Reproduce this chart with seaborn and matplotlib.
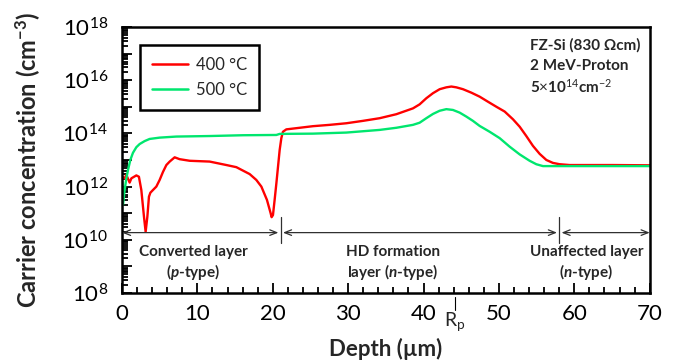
import numpy as np
import pandas as pd
import matplotlib
matplotlib.use("Agg")
import matplotlib.pyplot as plt
import matplotlib.ticker as mticker
import matplotlib.transforms as mtrans
import seaborn as sns

# ---- data ----
depth_400 = [0.05, 0.36, 0.58, 1.02, 1.25, 1.91, 2.25, 2.57, 2.92, 3.14, 3.37, 3.58, 3.77,
             4.11, 4.56, 5.0, 5.44, 5.89, 6.33, 6.99, 7.65, 8.98, 11.63, 13.85, 15.17, 16.94,
             17.82, 18.49, 19.23, 19.72, 19.85, 20.03, 20.25, 20.48, 20.7, 20.92, 21.14, 21.35,
             21.8, 23.57, 25.33, 27.55, 29.76, 31.96, 34.18, 36.39, 38.6, 39.48, 40.37, 41.25,
             42.14, 43.02, 43.69, 44.35, 45.23, 46.34, 47.44, 48.54, 49.66, 50.76, 51.86, 52.75,
             53.63, 54.51, 55.4, 56.29, 57.16, 58.05, 59.38, 65.1, 70.0]
logc_400 = [12.37, 12.31, 12.44, 12.15, 12.31, 12.42, 12.37, 11.87, 10.87, 10.3, 10.87, 11.62,
            11.77, 11.87, 12.0, 12.25, 12.55, 12.81, 12.94, 13.1, 13.03, 12.97, 12.94, 12.81,
            12.73, 12.47, 12.25, 12.0, 11.5, 11.0, 10.85, 10.93, 11.5, 12.12, 12.75, 13.38,
            13.82, 14.06, 14.15, 14.21, 14.27, 14.32, 14.38, 14.47, 14.57, 14.72, 14.94, 15.09,
            15.32, 15.51, 15.66, 15.73, 15.76, 15.73, 15.66, 15.53, 15.38, 15.19, 15.0, 14.82,
            14.53, 14.25, 13.9, 13.53, 13.23, 13.0, 12.89, 12.84, 12.81, 12.81, 12.8]

depth_500 = [0.05, 0.13, 0.36, 0.58, 0.8, 1.11, 1.46, 1.91, 2.35, 3.01, 3.67, 5.0, 7.21, 11.63,
             16.05, 20.48, 20.92, 25.33, 29.76, 34.18, 36.39, 38.6, 39.48, 40.37, 41.25, 42.14,
             43.02, 43.9, 44.79, 45.68, 46.55, 47.44, 48.77, 50.1, 51.42, 52.75, 54.07, 54.96,
             55.84, 58.5, 65.0, 70.0]
logc_500 = [12.18, 11.31, 11.87, 12.31, 12.62, 13.0, 13.27, 13.48, 13.6, 13.71, 13.79, 13.84,
            13.88, 13.9, 13.93, 13.94, 13.98, 13.99, 14.03, 14.13, 14.21, 14.32, 14.4, 14.57,
            14.73, 14.85, 14.91, 14.88, 14.78, 14.63, 14.47, 14.28, 14.06, 13.82, 13.5, 13.21,
            12.97, 12.84, 12.77, 12.77, 12.77, 12.77]

series_labels = ["400 °C", "500 °C"]
series_colors = ["#FF0000", "#00E66E"]

y_tick_exponents = [8, 10, 12, 14, 16, 18]
x_ticks = [0, 10, 20, 30, 40, 50, 60, 70]

layer_bounds = [0.0, 21.05, 58.0, 70.0]
layer_line1 = ["Converted layer", "HD formation", "Unaffected layer"]
layer_line2 = [r"($\mathbfit{p}$-type)", r"layer ($\mathbfit{n}$-type)", r"($\mathbfit{n}$-type)"]
layer_centers = [9.5, 35.9, 61.6]
rp_depth = 44.2

info_text = ["FZ-Si (830 Ωcm)", "2 MeV-Proton", r"5$\times$10$^{14}$cm$^{-2}$"]

# ---- build frame ----
df = pd.concat([
    pd.DataFrame({"depth": depth_400, "conc": np.power(10.0, logc_400), "temp": series_labels[0]}),
    pd.DataFrame({"depth": depth_500, "conc": np.power(10.0, logc_500), "temp": series_labels[1]}),
], ignore_index=True)

sns.set_style("white")
plt.rcParams["font.family"] = ["Lato", "DejaVu Sans"]
plt.rcParams["mathtext.fontset"] = "custom"
plt.rcParams["mathtext.rm"] = "Lato"
plt.rcParams["mathtext.it"] = "Lato:italic"
plt.rcParams["mathtext.bf"] = "Lato:bold"
plt.rcParams["mathtext.bfit"] = "Lato:italic:bold"

fig = plt.figure(figsize=(6.89, 3.64), dpi=100)
ax = fig.add_axes([0.177, 0.195, 0.766, 0.731])

sns.lineplot(data=df, x="depth", y="conc", hue="temp", palette=series_colors,
             hue_order=series_labels, linewidth=1.7, sort=False, ax=ax, estimator=None)

ax.set_yscale("log")
ax.set_xlim(0, 70)
ax.set_ylim(1e8, 1e18)

# ticks
ax.yaxis.set_major_locator(mticker.FixedLocator([10.0 ** e for e in range(8, 19)]))
ax.yaxis.set_major_formatter(mticker.FuncFormatter(
    lambda v, p: ("10$^{%d}$" % round(np.log10(v))) if round(np.log10(v)) in y_tick_exponents else ""))
ax.yaxis.set_minor_locator(mticker.LogLocator(base=10, subs=np.arange(2, 10), numticks=100))
ax.yaxis.set_minor_formatter(mticker.NullFormatter())
ax.xaxis.set_major_locator(mticker.FixedLocator(x_ticks))
ax.xaxis.set_minor_locator(mticker.MultipleLocator(2))
ax.tick_params(axis="both", which="both", direction="in", colors="black", width=1.3,
               left=True, bottom=True, top=False, right=False)
ax.tick_params(axis="y", which="major", length=7, labelsize=16, pad=10)
ax.tick_params(axis="y", which="minor", length=4)
ax.tick_params(axis="x", which="major", length=7, labelsize=16, pad=8)
ax.tick_params(axis="x", which="minor", length=4)

for s in ax.spines.values():
    s.set_visible(True)
    s.set_color("black")
    s.set_linewidth(1.8)

ax.set_xlabel("Depth (µm)", fontsize=16, fontweight="bold")
ax.set_ylabel(r"Carrier concentration (cm$^{\mathbf{-3}}$)", fontsize=17, fontweight="bold")
ax.xaxis.set_label_coords(0.5, -0.17)
ax.yaxis.set_label_coords(-0.152, 0.5)

# legend
leg = ax.legend(loc="upper left", bbox_to_anchor=(0.034, 0.932), borderaxespad=0,
                fontsize=12, handlelength=2.2, handletextpad=0.45, labelspacing=0.55,
                borderpad=0.7, fancybox=False, framealpha=1, edgecolor="black")
leg.get_frame().set_linewidth(1.8)
for h in leg.get_lines():
    h.set_linewidth(1.8)

# info text
for i, t in enumerate(info_text):
    ax.text(0.773, 0.929 - i * 0.076, t, transform=ax.transAxes, fontsize=11,
            fontweight="bold", ha="left", va="center")

# layer arrows
arrow_y = 10 ** 10.27
gap = 0.3
for i in range(3):
    x0 = layer_bounds[i] + (gap if i > 0 else 0)
    x1 = layer_bounds[i + 1] - (gap if i < 2 else 0)
    ax.annotate("", xy=(x0, arrow_y), xytext=(x1, arrow_y),
                arrowprops=dict(arrowstyle="<->,head_length=0.5,head_width=0.2", color="#303030",
                                lw=0.9, shrinkA=0, shrinkB=0))
for xb in layer_bounds[1:3]:
    ax.plot([xb, xb], [10 ** 9.88, 10 ** 10.86], color="#303030", lw=0.9)

for c, l1, l2 in zip(layer_centers, layer_line1, layer_line2):
    ax.text(c, 10 ** 9.55, l1, fontsize=11, fontweight="bold", ha="center", va="center")
    ax.text(c, 10 ** 8.80, l2, fontsize=11, fontweight="bold", ha="center", va="center")

# Rp marker
trans = mtrans.blended_transform_factory(ax.transData, ax.transAxes)
ax.plot([rp_depth, rp_depth], [-0.015, -0.064], color="black", lw=0.8, transform=trans, clip_on=False)
ax.text(rp_depth, -0.066, r"R$_\mathrm{p}$", fontsize=14, ha="center", va="top", transform=trans)

fig.savefig("out.png", dpi=100)
